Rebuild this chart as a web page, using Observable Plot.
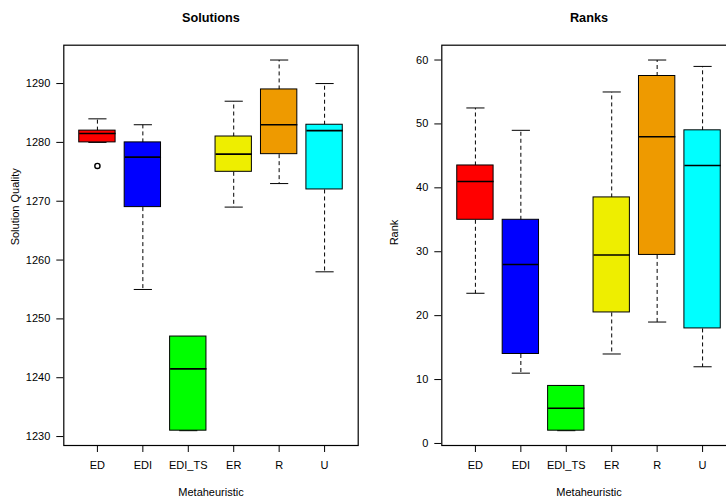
<!DOCTYPE html>
<html>
<head>
<meta charset="utf-8">
<script src="https://cdn.jsdelivr.net/npm/d3@7"></script>
<script src="https://cdn.jsdelivr.net/npm/@observablehq/plot@0.6"></script>
<style>
  html, body { margin: 0; padding: 0; background: #fff; }
  #wrap { position: relative; width: 726px; height: 499px; overflow: hidden; background: #fff; }
  #wrap > div { position: absolute; top: 0; }
  #wrap svg { display: block; max-width: none !important; height: 499px !important; }
</style>
</head>
<body>
<div id="wrap"><div id="left" style="left:0px;width:363px"></div><div id="right" style="left:363px;width:378px"></div></div>
<script>
// ---- data ----
const categories = ["ED", "EDI", "EDI_TS", "ER", "R", "U"];
const boxColors = ["#FF0000", "#0000FF", "#00FF00", "#EEEE00", "#EE9A00", "#00FFFF"];

// Solutions panel
const solLow  = [1280, 1255, 1231, 1269, 1273, 1258];
const solQ1   = [1280, 1269, 1231, 1275, 1278, 1272];
const solMed  = [1281.5, 1277.5, 1241.5, 1278, 1283, 1282];
const solQ3   = [1282, 1280, 1247, 1281, 1289, 1283];
const solHigh = [1284, 1283, 1247, 1287, 1294, 1290];
const solOutCat = ["ED"];
const solOutVal = [1276];
const solTicks = [1230, 1240, 1250, 1260, 1270, 1280, 1290];

// Ranks panel
const rankLow  = [23.5, 11, 2, 14, 19, 12];
const rankQ1   = [35, 14, 2, 20.5, 29.5, 18];
const rankMed  = [41, 28, 5.5, 29.5, 48, 43.5];
const rankQ3   = [43.5, 35, 9, 38.5, 57.5, 49];
const rankHigh = [52.5, 49, 9, 55, 60, 59];
const rankOutCat = [];
const rankOutVal = [];
const rankTicks = [0, 10, 20, 30, 40, 50, 60];

function panel(o) {
  const rows = categories.map((c, k) => ({
    c, i: k + 1, color: boxColors[k],
    low: o.low[k], q1: o.q1[k], med: o.med[k], q3: o.q3[k], high: o.high[k]
  }));
  const outs = o.outCat.map((c, k) => ({ i: categories.indexOf(c) + 1, v: o.outVal[k] }));
  const lo = d3.min(o.low.concat(o.outVal)), hi = d3.max(o.high.concat(o.outVal));
  const pad = (hi - lo) * 0.04;
  const font = 11;
  return Plot.plot({
    width: o.width, height: 499,
    marginLeft: o.marginLeft, marginRight: o.marginRight, marginTop: 44.7, marginBottom: 54,
    style: { fontFamily: "'Liberation Sans', Arial, Helvetica, sans-serif", fontSize: font + "px", color: "black", background: "white" },
    x: { type: "linear", domain: [0.26, 6.74], axis: null },
    y: { domain: [lo - pad, hi + pad], axis: null },
    color: { type: "identity" },
    marks: [
      Plot.axisY(o.ticks, { anchor: "left", tickSize: 7, tickPadding: 6.5, fontSize: font, label: null, stroke: "black",
        tickFormat: d => String(d) }),
      Plot.axisX(d3.range(1, 7), { anchor: "bottom", tickSize: 7, tickPadding: 8.5, fontSize: font, label: null,
        tickFormat: i => categories[i - 1], stroke: "black" }),
      // whiskers
      Plot.link(rows, { x1: "i", x2: "i", y1: "q3", y2: "high", stroke: "black", strokeWidth: 1, strokeDasharray: "4,3" }),
      Plot.link(rows, { x1: "i", x2: "i", y1: "q1", y2: "low", stroke: "black", strokeWidth: 1, strokeDasharray: "4,3" }),
      // caps
      Plot.link(rows, { x1: d => d.i - 0.2, x2: d => d.i + 0.2, y1: "high", y2: "high", stroke: "black", strokeWidth: 1 }),
      Plot.link(rows, { x1: d => d.i - 0.2, x2: d => d.i + 0.2, y1: "low", y2: "low", stroke: "black", strokeWidth: 1 }),
      // boxes
      Plot.rect(rows, { x1: d => d.i - 0.4, x2: d => d.i + 0.4, y1: "q1", y2: "q3", fill: "color", stroke: "black", strokeWidth: 1 }),
      // medians
      Plot.link(rows, { x1: d => d.i - 0.4, x2: d => d.i + 0.4, y1: "med", y2: "med", stroke: "black", strokeWidth: 1.6 }),
      // outliers
      Plot.dot(outs, { x: "i", y: "v", r: 2.6, stroke: "black", strokeWidth: 1.4, fill: "none" }),
      Plot.frame({ stroke: "black", strokeWidth: 1.2 }),
      // titles
      Plot.text([o.title], { frameAnchor: "top", dy: -27.5, lineAnchor: "middle", fontWeight: "bold", fontSize: 12.7, fill: "black" }),
      Plot.text([o.ylabel], { frameAnchor: "left", dx: o.ylabelDx, rotate: -90, lineAnchor: "middle", fontSize: font, fill: "black" }),
      Plot.text(["Metaheuristic"], { frameAnchor: "bottom", dy: 46.5, lineAnchor: "middle", fontSize: font, fill: "black" })
    ]
  });
}

document.getElementById("left").appendChild(panel({
  title: "Solutions", ylabel: "Solution Quality",
  low: solLow, q1: solQ1, med: solMed, q3: solQ3, high: solHigh,
  outCat: solOutCat, outVal: solOutVal, ticks: solTicks,
  width: 363, marginLeft: 63.3, marginRight: 5.3, ylabelDx: -48.3
}));
document.getElementById("right").appendChild(panel({
  title: "Ranks", ylabel: "Rank",
  low: rankLow, q1: rankQ1, med: rankMed, q3: rankQ3, high: rankHigh,
  outCat: rankOutCat, outVal: rankOutVal, ticks: rankTicks,
  width: 378, marginLeft: 78.3, marginRight: 5.3, ylabelDx: -47.3
}));
</script>
</body>
</html>
